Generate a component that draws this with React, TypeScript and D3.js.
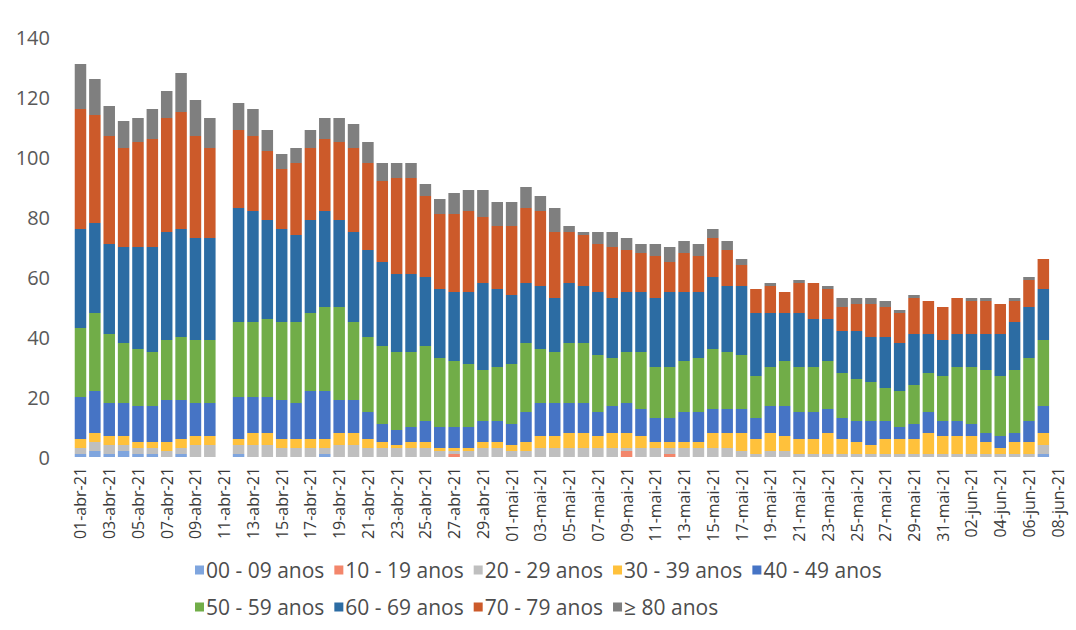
import React, { useEffect, useRef } from "react";
import * as d3 from "d3";

// categories (11-abr and 08-jun have no bars in the source)
const days = [
  "01-abr-21", "02-abr-21", "03-abr-21", "04-abr-21", "05-abr-21", "06-abr-21", "07-abr-21", "08-abr-21", "09-abr-21", "10-abr-21",
  "11-abr-21", "12-abr-21", "13-abr-21", "14-abr-21", "15-abr-21", "16-abr-21", "17-abr-21", "18-abr-21", "19-abr-21", "20-abr-21",
  "21-abr-21", "22-abr-21", "23-abr-21", "24-abr-21", "25-abr-21", "26-abr-21", "27-abr-21", "28-abr-21", "29-abr-21", "30-abr-21",
  "01-mai-21", "02-mai-21", "03-mai-21", "04-mai-21", "05-mai-21", "06-mai-21", "07-mai-21", "08-mai-21", "09-mai-21", "10-mai-21",
  "11-mai-21", "12-mai-21", "13-mai-21", "14-mai-21", "15-mai-21", "16-mai-21", "17-mai-21", "18-mai-21", "19-mai-21", "20-mai-21",
  "21-mai-21", "22-mai-21", "23-mai-21", "24-mai-21", "25-mai-21", "26-mai-21", "27-mai-21", "28-mai-21", "29-mai-21", "30-mai-21",
  "31-mai-21", "01-jun-21", "02-jun-21", "03-jun-21", "04-jun-21", "05-jun-21", "06-jun-21", "07-jun-21", "08-jun-21",
];

const ageGroups = [
  "00 - 09 anos", "10 - 19 anos", "20 - 29 anos", "30 - 39 anos", "40 - 49 anos",
  "50 - 59 anos", "60 - 69 anos", "70 - 79 anos", "≥ 80 anos",
];
const colors = ["#7fa5de", "#f3866b", "#bfbfbf", "#ffc13b", "#4674c5", "#71ad48", "#2c6ca3", "#cc5a2a", "#7f7f7f"];

// values per day, in the order of `days`
const a00 = [1,2,1,2,1,1,0,1,0,0, 0, 1,0,0,0,0,0,1,0,0,0,0,0,0,0,0,0,0,0,0,
  0,0,0,0,0,0,0,0,0,0,0,0,0,0,0,0,0,0,0,0,0,0,0,0,0,0,0,0,0,0,0,
  0,0,0,0,0,0,1,0];
const a10 = [0,0,0,0,0,0,0,0,0,0, 0, 0,0,0,0,0,0,0,0,0,0,0,0,0,0,0,1,0,0,0,
  0,0,0,0,0,0,0,0,2,0,0,1,0,0,0,0,0,0,0,0,0,0,0,0,0,0,0,0,0,0,0,
  0,0,0,0,0,0,0,0];
const a20 = [2,3,3,2,2,2,2,2,4,4, 0, 3,4,4,3,3,3,2,4,4,3,3,3,3,3,2,1,2,3,3,
  2,2,3,3,3,3,3,3,1,3,3,2,3,3,3,3,2,1,2,2,1,1,1,1,1,1,1,1,1,1,1,
  1,1,1,1,1,1,3,0];
const a30 = [3,3,3,3,2,2,3,3,3,3, 0, 2,4,4,3,3,3,3,4,4,3,2,1,2,2,1,1,1,2,2,
  2,3,4,4,5,5,4,5,5,4,2,2,2,2,5,5,6,5,6,5,5,5,7,5,4,3,5,5,5,7,6,
  6,6,4,2,4,4,4,0];
const a40 = [14,14,11,11,12,12,14,13,11,11, 0, 14,12,12,13,12,16,16,11,11,9,6,5,5,7,7,7,7,7,7,
  7,10,11,11,10,10,8,9,10,9,8,8,10,10,8,8,8,7,9,10,9,9,8,7,7,8,6,4,5,7,5,
  5,4,3,4,3,7,9,0];
const a50 = [23,26,23,20,19,18,20,21,21,21, 0, 25,25,26,26,27,26,28,31,26,25,26,26,25,25,23,22,21,17,18,
  20,23,18,17,20,20,19,16,17,19,17,17,17,18,20,19,18,14,13,15,15,15,16,15,14,13,11,12,13,13,15,
  18,19,21,20,21,21,22,0];
const a60 = [33,30,30,32,34,35,36,36,34,34, 0, 38,37,33,31,29,31,32,29,30,29,28,26,26,23,23,23,24,29,26,
  23,20,21,18,20,19,21,20,20,20,23,25,23,22,24,22,23,21,18,16,18,16,14,14,16,15,17,16,17,13,12,
  11,11,12,14,16,17,17,0];
const a70 = [40,36,36,33,35,36,38,39,34,30, 0, 26,25,23,20,24,24,24,26,28,29,27,32,32,27,25,26,27,22,21,
  23,25,25,22,17,17,16,17,14,13,14,10,13,12,13,12,7,8,9,7,10,12,10,8,9,11,10,10,12,11,11,
  12,11,11,10,7,9,10,0];
const a80 = [15,12,10,9,8,10,9,13,12,10, 0, 9,9,7,5,5,6,7,8,8,7,6,5,5,4,5,7,7,9,8,
  8,7,5,8,2,1,4,5,4,3,4,5,4,4,3,3,2,0,1,0,1,0,1,3,2,2,2,1,1,0,0,
  0,1,1,0,1,1,0,0];

const series = [a00, a10, a20, a30, a40, a50, a60, a70, a80];
const yTicks = [0, 20, 40, 60, 80, 100, 120, 140];

const W = 1076;
const H = 630;
const FONT = "'Open Sans', 'DejaVu Sans', sans-serif";

export default function App() {
  const ref = useRef<SVGSVGElement>(null);

  useEffect(() => {
    const svg = d3.select(ref.current);
    svg.selectAll("*").remove();

    const rows = days.map((d, i) => {
      const r: any = { day: d };
      ageGroups.forEach((g, k) => (r[g] = series[k][i]));
      return r;
    });

    const x = d3.scaleBand().domain(days).range([73.3, 1064.9]).paddingInner(0.2).paddingOuter(0.1);
    const y = d3.scaleLinear().domain([0, 140]).range([457, 37]);

    const stacked = d3.stack().keys(ageGroups)(rows);

    svg.append("g")
      .selectAll("g")
      .data(stacked)
      .join("g")
      .attr("fill", (_d, k) => colors[k])
      .selectAll("rect")
      .data((s) => s)
      .join("rect")
      .attr("x", (d: any) => x(d.data.day))
      .attr("width", x.bandwidth())
      .attr("y", (d) => y(d[1]))
      .attr("height", (d) => Math.max(0, y(d[0]) - y(d[1])));

    // y axis labels
    svg.append("g")
      .selectAll("text")
      .data(yTicks)
      .join("text")
      .attr("x", 50)
      .attr("y", (d) => y(d))
      .attr("text-anchor", "end")
      .attr("dominant-baseline", "central")
      .style("font-family", FONT)
      .style("font-size", "20px")
      .style("fill", "#595959")
      .text((d) => d);

    // x labels, every other day
    const shown = days.filter((_d, i) => i % 2 === 0);
    svg.append("g")
      .selectAll("text")
      .data(shown)
      .join("text")
      .attr("transform", (d) => `translate(${x(d)! + x.bandwidth() / 2},467) rotate(-90)`)
      .attr("text-anchor", "end")
      .attr("dominant-baseline", "central")
      .style("font-family", FONT)
      .style("font-size", "16px")
      .style("fill", "#3a3a3a")
      .text((d) => d);

    // legend, two rows
    const legendRows = [ageGroups.slice(0, 5), ageGroups.slice(5)];
    const rowY = [570, 607];
    legendRows.forEach((items, r) => {
      let cx = 195;
      items.forEach((name) => {
        const k = ageGroups.indexOf(name);
        const g = svg.append("g");
        g.append("rect")
          .attr("x", cx)
          .attr("y", rowY[r] - 4.5)
          .attr("width", 9)
          .attr("height", 9)
          .attr("fill", colors[k]);
        const t = g.append("text")
          .attr("x", cx + 11)
          .attr("y", rowY[r])
          .attr("dominant-baseline", "central")
          .style("font-family", FONT)
          .style("font-size", "21px")
          .style("fill", "#4d4d4d")
          .text(name);
        const len = (t.node() as SVGTextElement).getComputedTextLength();
        cx += 11 + len + 10;
      });
    });
  }, []);

  return (
    <svg
      ref={ref}
      width={W}
      height={H}
      style={{ position: "absolute", left: 0, top: 0, background: "#fff" }}
    />
  );
}
